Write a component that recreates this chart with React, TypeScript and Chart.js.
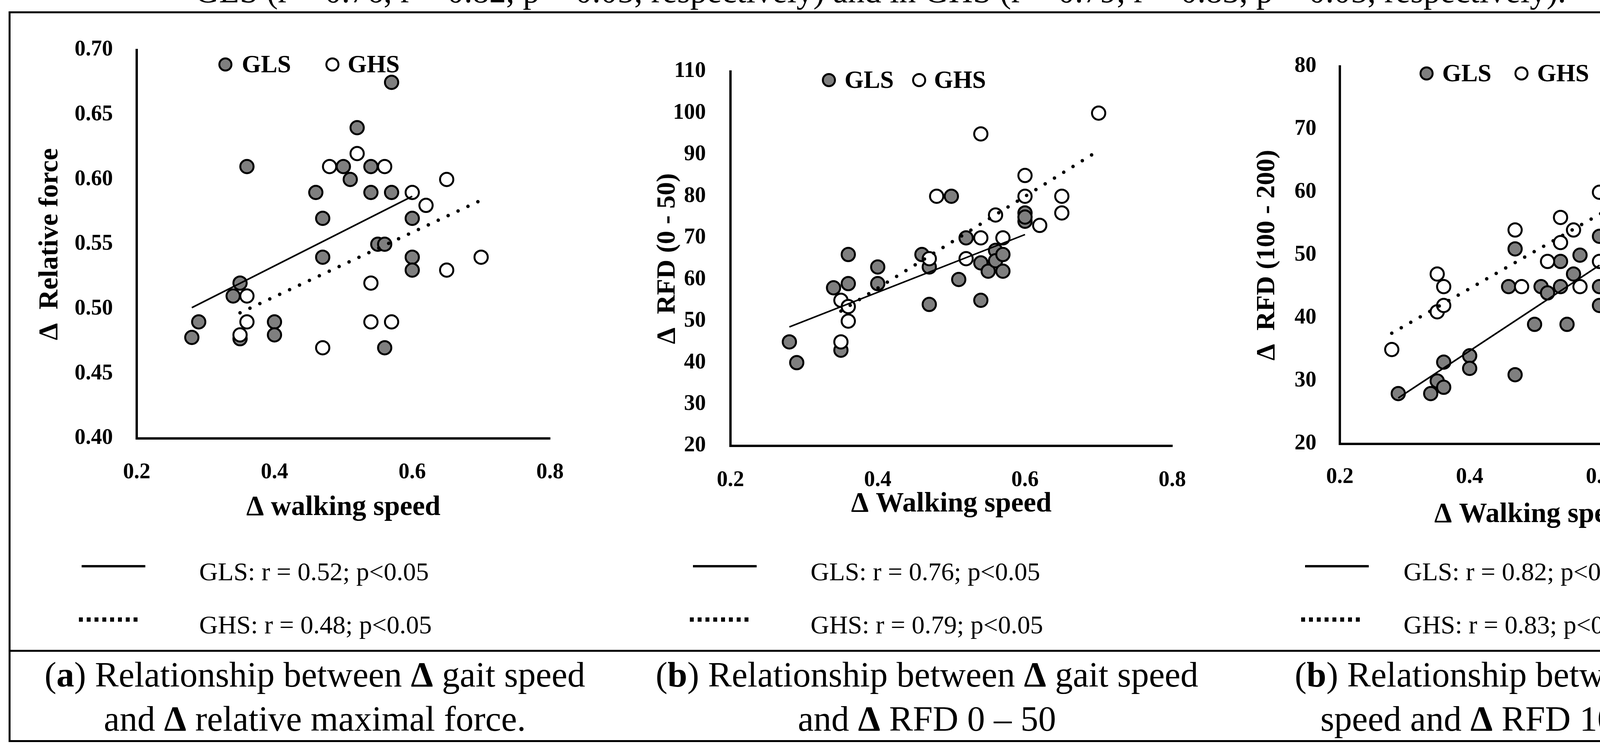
import React, { useEffect, useRef } from "react";
import { Chart, registerables } from "chart.js";

Chart.register(...registerables);

const FONT = "'Liberation Serif', 'Times New Roman', serif";
const GRAY = "#7f7f7f";

// shared x axis
const xTicks = [0.2, 0.4, 0.6, 0.8];

// (a) relative force
const yTicksA = [0.4, 0.45, 0.5, 0.55, 0.6, 0.65, 0.7];
const glsXA = [0.28, 0.29, 0.34, 0.35, 0.35, 0.36, 0.4, 0.4, 0.46, 0.47, 0.47, 0.5, 0.51, 0.52, 0.54, 0.54, 0.55, 0.56, 0.56, 0.57, 0.57, 0.6, 0.6, 0.6];
const glsYA = [0.478, 0.49, 0.51, 0.52, 0.477, 0.61, 0.49, 0.48, 0.59, 0.57, 0.54, 0.61, 0.6, 0.64, 0.61, 0.59, 0.55, 0.55, 0.47, 0.675, 0.59, 0.57, 0.54, 0.53];
const ghsXA = [0.35, 0.36, 0.36, 0.47, 0.48, 0.52, 0.54, 0.54, 0.56, 0.57, 0.6, 0.62, 0.65, 0.65, 0.7];
const ghsYA = [0.48, 0.51, 0.49, 0.47, 0.61, 0.62, 0.52, 0.49, 0.61, 0.49, 0.59, 0.58, 0.6, 0.53, 0.54];
const glsTrendXA = [0.28, 0.6];
const glsTrendYA = [0.501, 0.587];
const ghsTrendXA = [0.35, 0.7];
const ghsTrendYA = [0.497, 0.584];

// (b) RFD 0-50
const yTicksB = [20, 30, 40, 50, 60, 70, 80, 90, 100, 110];
const glsXB = [0.28, 0.29, 0.34, 0.35, 0.36, 0.36, 0.4, 0.4, 0.46, 0.47, 0.47, 0.5, 0.51, 0.52, 0.54, 0.54, 0.55, 0.56, 0.56, 0.57, 0.57, 0.6, 0.6, 0.6];
const glsYB = [45, 40, 58, 43, 66, 59, 63, 59, 66, 63, 54, 80, 60, 70, 64, 55, 62, 67, 64.5, 66, 62, 76, 74, 75];
const ghsXB = [0.35, 0.35, 0.36, 0.36, 0.47, 0.48, 0.52, 0.54, 0.54, 0.56, 0.57, 0.6, 0.6, 0.62, 0.65, 0.65, 0.7];
const ghsYB = [55, 45, 53.5, 50, 65, 80, 65, 70, 95, 75.5, 70, 85, 80, 73, 80, 76, 100];
const glsTrendXB = [0.28, 0.6];
const glsTrendYB = [48.6, 70.8];
const ghsTrendXB = [0.35, 0.7];
const ghsTrendYB = [52.4, 91];

// (c) RFD 100-200
const yTicksC = [20, 30, 40, 50, 60, 70, 80];
const glsXC = [0.29, 0.34, 0.35, 0.36, 0.36, 0.4, 0.4, 0.46, 0.47, 0.47, 0.5, 0.51, 0.52, 0.54, 0.54, 0.55, 0.56, 0.57, 0.6, 0.6, 0.6];
const glsYC = [28, 28, 30, 33, 29, 34, 32, 45, 51, 31, 39, 45, 44, 49, 45, 39, 47, 50, 53, 45, 42];
const ghsXC = [0.28, 0.35, 0.35, 0.36, 0.36, 0.47, 0.48, 0.52, 0.54, 0.54, 0.56, 0.57, 0.6, 0.6, 0.62, 0.65, 0.65, 0.7];
const ghsYC = [35, 47, 41, 45, 42, 54, 45, 49, 56, 52, 54, 45, 60, 49, 56, 70, 63, 61];
const glsTrendXC = [0.29, 0.6];
const glsTrendYC = [27.3, 48.4];
const ghsTrendXC = [0.28, 0.7];
const ghsTrendYC = [37.6, 62.4];

const toXY = (xs: number[], ys: number[]) => xs.map((x, i) => ({ x, y: ys[i] }));

type Layout = {
  plotLeft: number;
  plotRight: number;
  plotTop: number;
  plotBottom: number;
  yTitleCx: number;
  yTitleSize: number;
  xTitleCy: number;
  yTickPad: number;
  xTickPad: number;
  legendCy: number;
  glsMarkX: number;
  glsTextX: number;
  ghsMarkX: number;
  ghsTextX: number;
};

type PanelProps = {
  layout: Layout;
  yTicks: number[];
  yDec: number;
  yTitle: string;
  xTitle: string;
  glsX: number[];
  glsY: number[];
  ghsX: number[];
  ghsY: number[];
  glsTX: number[];
  glsTY: number[];
  ghsTX: number[];
  ghsTY: number[];
};

const TICK_SIZE = 56;
const XTITLE_SIZE = 72;
// tick padding is added to the scale paddings, so keep the layout padding larger than that
const PAD = { top: 120, right: 130, bottom: 20, left: 0 };

const Panel: React.FC<PanelProps> = (p) => {
  const ref = useRef<HTMLCanvasElement | null>(null);
  const L = p.layout;
  const left = L.yTitleCx - L.yTitleSize / 2;
  const top = L.plotTop - PAD.top;
  const yw = L.plotLeft - left;
  const xh = L.xTitleCy + XTITLE_SIZE / 2 - L.plotBottom;
  const width = L.plotRight + PAD.right - left;
  const height = L.plotBottom + xh + PAD.bottom - top;

  useEffect(() => {
    if (!ref.current) return;
    const ctx = ref.current.getContext("2d");
    if (!ctx) return;

    const tickFont = { family: FONT, size: TICK_SIZE, weight: "bold" as const, lineHeight: 1 };

    const chart = new Chart(ctx, {
      type: "scatter",
      data: {
        datasets: [
          {
            label: "GLS trend",
            data: toXY(p.glsTX, p.glsTY),
            showLine: true,
            borderColor: "#000",
            borderWidth: 4,
            pointRadius: 0,
            order: 1,
          },
          {
            label: "GHS trend",
            data: toXY(p.ghsTX, p.ghsTY),
            showLine: true,
            borderColor: "#000",
            borderWidth: 9,
            borderDash: [0, 28],
            borderCapStyle: "round",
            pointRadius: 0,
            order: 1,
          },
          {
            label: "GHS",
            data: toXY(p.ghsX, p.ghsY),
            pointRadius: 17,
            pointBorderWidth: 5,
            pointBackgroundColor: "#fff",
            pointBorderColor: "#000",
            order: 2,
          },
          {
            label: "GLS",
            data: toXY(p.glsX, p.glsY),
            pointRadius: 17,
            pointBorderWidth: 5,
            pointBackgroundColor: GRAY,
            pointBorderColor: "#000",
            order: 3,
          },
        ],
      },
      options: {
        animation: false,
        responsive: false,
        maintainAspectRatio: false,
        devicePixelRatio: 1,
        layout: { padding: PAD },
        plugins: { legend: { display: false }, tooltip: { enabled: false } },
        scales: {
          x: {
            type: "linear",
            min: xTicks[0],
            max: xTicks[xTicks.length - 1],
            afterBuildTicks: (s: any) => {
              s.ticks = xTicks.map((v) => ({ value: v }));
            },
            afterFit: (s: any) => {
              s.height = xh;
            },
            grid: { display: false, drawTicks: false },
            border: { display: true, color: "#000", width: 6 },
            ticks: {
              padding: L.xTickPad,
              color: "#000",
              font: tickFont,
              maxRotation: 0,
              autoSkip: false,
              callback: (v: any) => Number(v).toFixed(1),
            },
            title: {
              display: true,
              text: p.xTitle,
              color: "#000",
              padding: 0,
              font: { family: FONT, size: XTITLE_SIZE, weight: "bold", lineHeight: 1 },
            },
          },
          y: {
            type: "linear",
            min: p.yTicks[0],
            max: p.yTicks[p.yTicks.length - 1],
            afterBuildTicks: (s: any) => {
              s.ticks = p.yTicks.map((v) => ({ value: v }));
            },
            afterFit: (s: any) => {
              s.width = yw;
            },
            grid: { display: false, drawTicks: false },
            border: { display: true, color: "#000", width: 6 },
            ticks: {
              padding: L.yTickPad,
              color: "#000",
              font: tickFont,
              autoSkip: false,
              callback: (v: any) => Number(v).toFixed(p.yDec),
            },
            title: {
              display: true,
              text: p.yTitle,
              color: "#000",
              padding: 0,
              font: { family: FONT, size: L.yTitleSize, weight: "bold", lineHeight: 1 },
            },
          },
        },
      },
    });

    return () => {
      chart.destroy();
    };
  }, []);

  const legendText: React.CSSProperties = {
    position: "absolute",
    top: L.legendCy - 0.5075 * 63,
    fontFamily: FONT,
    fontWeight: "bold",
    fontSize: 63,
    lineHeight: "63px",
    whiteSpace: "nowrap",
  };
  const marker = (cx: number, fill: string): React.CSSProperties => ({
    position: "absolute",
    left: cx - 18,
    top: L.legendCy - 18,
    width: 36,
    height: 36,
    borderRadius: "50%",
    border: "5px solid #000",
    boxSizing: "border-box",
    background: fill,
  });

  return (
    <>
      <canvas
        ref={ref}
        width={width}
        height={height}
        style={{ position: "absolute", left, top, width, height }}
      />
      <div style={marker(L.glsMarkX, GRAY)} />
      <div style={{ ...legendText, left: L.glsTextX }}>GLS</div>
      <div style={marker(L.ghsMarkX, "#fff")} />
      <div style={{ ...legendText, left: L.ghsTextX }}>GHS</div>
    </>
  );
};

const layoutA: Layout = {
  plotLeft: 350, plotRight: 1408, plotTop: 128, plotBottom: 1122,
  yTitleCx: 129, yTitleSize: 70, xTitleCy: 1299, yTickPad: 61, xTickPad: 60,
  legendCy: 165, glsMarkX: 577, glsTextX: 619, ghsMarkX: 851, ghsTextX: 890,
};
const layoutB: Layout = {
  plotLeft: 1870, plotRight: 3001, plotTop: 183, plotBottom: 1141,
  yTitleCx: 1709, yTitleSize: 68, xTitleCy: 1290, yTickPad: 63, xTickPad: 61,
  legendCy: 205, glsMarkX: 2122, glsTextX: 2162, ghsMarkX: 2353, ghsTextX: 2391,
};
const layoutC: Layout = {
  plotLeft: 3430, plotRight: 4427, plotTop: 170, plotBottom: 1136,
  yTitleCx: 3244, yTitleSize: 68, xTitleCy: 1317, yTickPad: 60, xTickPad: 58,
  legendCy: 188, glsMarkX: 3652, glsTextX: 3692, ghsMarkX: 3895, ghsTextX: 3935,
};

const statText: React.CSSProperties = {
  position: "absolute",
  fontFamily: FONT,
  fontSize: 66,
  lineHeight: "66px",
  whiteSpace: "nowrap",
};

const StatLegend: React.FC<{ lineX: number; dotX: number; textX: number; gls: string; ghs: string }> = ({ lineX, dotX, textX, gls, ghs }) => (
  <>
    <div style={{ position: "absolute", left: lineX, top: 1446, width: 163, height: 6, background: "#000" }} />
    <div
      style={{
        position: "absolute",
        left: dotX,
        top: 1580,
        width: 155,
        height: 11,
        background: "repeating-linear-gradient(90deg, #000 0 10px, transparent 10px 20px)",
      }}
    />
    <div style={{ ...statText, left: textX, top: 1463 - 0.5075 * 66 }}>{gls}</div>
    <div style={{ ...statText, left: textX, top: 1599 - 0.5075 * 66 }}>{ghs}</div>
  </>
);

const CAP_SIZE = 91;
const TOP_SIZE = 86;
const capText = (cx: number, cy: number): React.CSSProperties => ({
  position: "absolute",
  left: cx - 800,
  width: 1600,
  top: cy - 0.5075 * CAP_SIZE,
  textAlign: "center",
  fontFamily: FONT,
  fontSize: CAP_SIZE,
  lineHeight: `${CAP_SIZE}px`,
  whiteSpace: "nowrap",
});

const App: React.FC = () => {
  return (
    <div
      style={{
        position: "fixed",
        left: 0,
        top: 0,
        width: 4668,
        height: 1927,
        background: "#fff",
        overflow: "hidden",
        color: "#000",
      }}
    >
      {/* last line of the running text above the figure, cut by the page edge */}
      <div
        style={{
          position: "absolute",
          left: 2254 - 2000,
          width: 4000,
          top: 6 - 0.8375 * TOP_SIZE,
          textAlign: "center",
          fontFamily: FONT,
          fontSize: TOP_SIZE,
          lineHeight: `${TOP_SIZE}px`,
          whiteSpace: "nowrap",
        }}
      >
        GLS (r = 0.76, r = 0.82, p = 0.05, respectively) and in GHS (r = 0.79, r = 0.83, p = 0.05, respectively).
      </div>

      <div
        style={{
          position: "absolute",
          left: 22,
          top: 29,
          width: 4610,
          height: 1870,
          border: "5px solid #000",
          boxSizing: "border-box",
        }}
      />
      <div style={{ position: "absolute", left: 22, top: 1663, width: 4610, height: 5, background: "#000" }} />

      <Panel
        layout={layoutA}
        yTicks={yTicksA}
        yDec={2}
        yTitle={"Δ  Relative force"}
        xTitle={"Δ walking speed"}
        glsX={glsXA}
        glsY={glsYA}
        ghsX={ghsXA}
        ghsY={ghsYA}
        glsTX={glsTrendXA}
        glsTY={glsTrendYA}
        ghsTX={ghsTrendXA}
        ghsTY={ghsTrendYA}
      />
      <Panel
        layout={layoutB}
        yTicks={yTicksB}
        yDec={0}
        yTitle={"Δ  RFD (0 - 50)"}
        xTitle={"Δ Walking speed"}
        glsX={glsXB}
        glsY={glsYB}
        ghsX={ghsXB}
        ghsY={ghsYB}
        glsTX={glsTrendXB}
        glsTY={glsTrendYB}
        ghsTX={ghsTrendXB}
        ghsTY={ghsTrendYB}
      />
      <Panel
        layout={layoutC}
        yTicks={yTicksC}
        yDec={0}
        yTitle={"Δ  RFD (100 - 200)"}
        xTitle={"Δ Walking speed"}
        glsX={glsXC}
        glsY={glsYC}
        ghsX={ghsXC}
        ghsY={ghsYC}
        glsTX={glsTrendXC}
        glsTY={glsTrendYC}
        ghsTX={ghsTrendXC}
        ghsTY={ghsTrendYC}
      />

      <StatLegend lineX={209} dotX={202} textX={510} gls="GLS: r = 0.52; p<0.05" ghs="GHS: r = 0.48; p<0.05" />
      <StatLegend lineX={1774} dotX={1766} textX={2075} gls="GLS: r = 0.76; p<0.05" ghs="GHS: r = 0.79; p<0.05" />
      <StatLegend lineX={3341} dotX={3331} textX={3593} gls="GLS: r = 0.82; p<0.05" ghs="GHS: r = 0.83; p<0.05" />

      <div style={capText(806, 1727)}>
        (<b>a</b>) Relationship between <b>Δ</b> gait speed
      </div>
      <div style={capText(806, 1840)}>
        and <b>Δ</b> relative maximal force.
      </div>
      <div style={capText(2373, 1727)}>
        (<b>b</b>) Relationship between <b>Δ</b> gait speed
      </div>
      <div style={capText(2373, 1840)}>
        and <b>Δ</b> RFD 0 – 50
      </div>
      <div style={capText(3894, 1727)}>
        (<b>b</b>) Relationship between <b>Δ</b> gait
      </div>
      <div style={capText(3894, 1840)}>
        speed and <b>Δ</b> RFD 100 – 200
      </div>
    </div>
  );
};

export default App;
